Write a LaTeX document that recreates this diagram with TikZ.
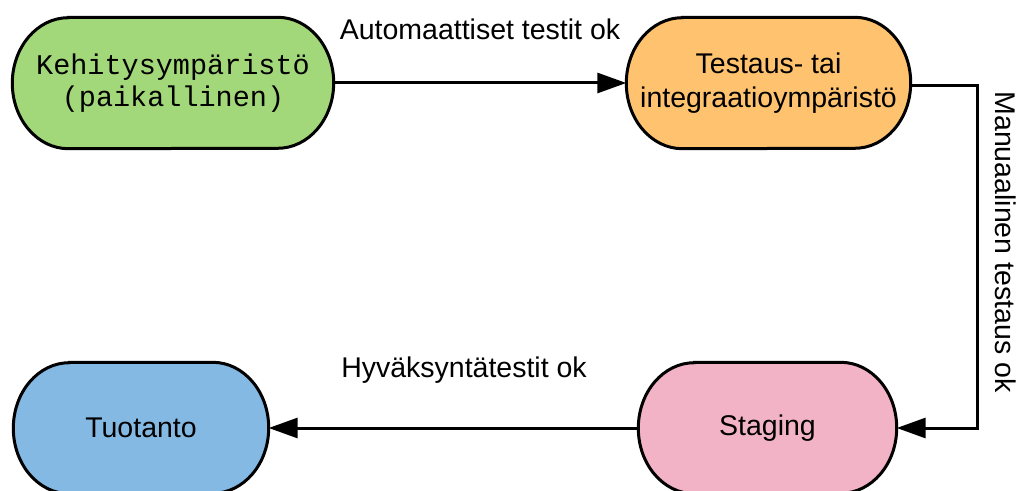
\documentclass[tikz,border=0pt]{standalone}
\usepackage{fontspec}
\setmainfont{Liberation Sans}
\setmonofont{Liberation Mono}
\usetikzlibrary{arrows.meta,backgrounds}

\definecolor{devgreen}{HTML}{A2D879}
\definecolor{testorange}{HTML}{FFC36F}
\definecolor{stagepink}{HTML}{F3B3C6}
\definecolor{prodblue}{HTML}{83B9E3}

\tikzset{
  env/.style={minimum height=131pt, align=center, inner sep=0pt,
    font=\fontsize{28.5}{34}\selectfont},
  capsule/.style={draw=black, line width=3pt},
  conn/.style={line width=3pt, -{Triangle[length=29pt,width=20pt]}},
  lbl/.style={font=\fontsize{28.5}{34}\selectfont, inner sep=0pt}
}

% capsule outline with elliptical ends behind a named node
\newcommand\capsuleof[2]{%
  \begin{scope}[on background layer]
    \path[capsule, fill=#2]
      ([xshift=56pt]#1.north west) -- ([xshift=-56pt]#1.north east)
      arc[start angle=90, end angle=-90, x radius=56pt, y radius=65.5pt]
      -- ([xshift=56pt]#1.south west)
      arc[start angle=270, end angle=90, x radius=56pt, y radius=65.5pt]
      -- cycle;
  \end{scope}}

\begin{document}
\begin{tikzpicture}[x=1pt, y=1pt]
  \useasboundingbox (0,0) rectangle (1019,490);

  \node[env, minimum width=321pt,
        font=\ttfamily\fontsize{28.5}{32.5}\selectfont]
    (dev) at (173,407) {Kehitysympäristö\\(paikallinen)};
  \node[env, minimum width=284pt]
    (test) at (768.5,407) {Testaus- tai\\integraatioympäristö};
  \node[env, minimum width=258pt]
    (stage) at (767.5,62) {Staging};
  \node[env, minimum width=255pt]
    (prod) at (141,62) {Tuotanto};

  \capsuleof{dev}{devgreen}
  \capsuleof{test}{testorange}
  \capsuleof{stage}{stagepink}
  \capsuleof{prod}{prodblue}

  \coordinate (turn) at (977,404);

  \draw[conn] (dev) -- node[lbl, anchor=base, yshift=43.7pt]
    {Automaattiset testit ok} (test);

  \draw[conn] (test.east |- turn) -- (turn)
    -- node[lbl, xshift=18pt, yshift=15pt, rotate=-90, anchor=base]
      {Manuaalinen testaus ok} (turn |- stage.east) -- (stage.east);

  \draw[conn] (stage) -- node[lbl, anchor=base, xshift=10.5pt, yshift=51pt]
    {Hyväksyntätestit ok} (prod);
\end{tikzpicture}
\end{document}
